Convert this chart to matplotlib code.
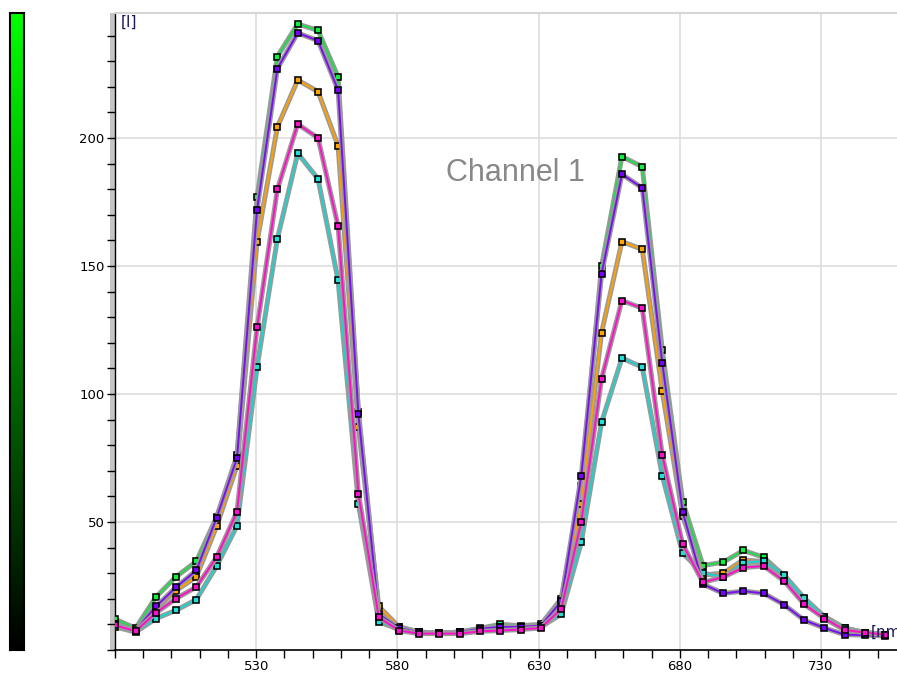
import numpy as np
import matplotlib
matplotlib.use("Agg")
import matplotlib.pyplot as plt
from matplotlib.ticker import MultipleLocator
from matplotlib.colors import LinearSegmentedColormap
from matplotlib.patches import Rectangle

# ---- data ----
wavelengths = [480.1, 487.3, 494.5, 501.6, 508.8, 516.0, 523.2, 530.3, 537.5, 544.7,
               551.9, 559.0, 566.2, 573.4, 580.6, 587.7, 594.9, 602.1, 609.3, 616.4,
               623.6, 630.8, 638.0, 645.1, 652.3, 659.5, 666.7, 673.8, 681.0, 688.2,
               695.4, 702.5, 709.7, 716.9, 724.1, 731.2, 738.4, 745.6, 752.8]

green = [12, 8.5, 20.7, 28.6, 34.6, 52, 76, 176.8, 231.8, 244.5,
         242, 223.8, 93, 15, 9, 7, 6.5, 7, 8.5, 10,
         9.5, 10, 20, 64, 150, 192.7, 188.8, 117, 58, 33,
         34.3, 38.9, 36.2, 29, 20, 13, 8.5, 6.8, 6]
purple = [10, 7.8, 17, 24.5, 31.1, 51.7, 75, 172, 227.1, 241,
          238, 218.7, 92, 14, 8.5, 7, 6.5, 7, 8.3, 9,
          9, 9.5, 19, 68, 147, 185.8, 180.5, 112, 54, 25.7,
          22.1, 23.0, 22.1, 17.7, 11.6, 8.6, 6.0, 5.8, 5.5]
orange = [10, 7.6, 16.3, 23.2, 28.6, 48.3, 72, 159.4, 204.3, 222.6,
          218.1, 196.9, 87, 17, 9, 7, 6.5, 7, 8, 9,
          9, 9.5, 17, 57, 124, 159.5, 156.5, 101, 52.3, 29.3,
          30, 35.2, 34.5, 27.5, 18.5, 12.5, 8, 6.5, 6]
magenta = [9.6, 7.4, 14.5, 20.1, 24.6, 36.3, 54, 126, 179.9, 205.4,
           200, 165.5, 61, 12.7, 7.6, 6.4, 6.4, 6.4, 7.3, 7.6,
           8.0, 8.6, 16, 50, 106, 136.5, 133.5, 76, 41.3, 26.4,
           28.5, 32.2, 32.8, 27.0, 17.8, 12.3, 7.8, 6.8, 6]
cyan = [9, 7, 12.3, 15.5, 19.7, 32.8, 48.5, 110.4, 160.6, 194,
        184, 144.4, 57, 11, 8, 7, 6.5, 7, 8, 8.5,
        8.5, 9, 14, 42, 89, 114, 110.5, 68, 37.8, 30,
        28.5, 34, 34.8, 29.3, 20.2, 13, 8.5, 6.8, 6]

series = [
    (green, "#1edc4a", "#10f040"),
    (orange, "#ffa000", "#ffa500"),
    (cyan, "#1ed2cc", "#20e0d8"),
    (purple, "#7a10f0", "#7a00ff"),
    (magenta, "#ff10c8", "#ff10d0"),
]

W, H = 897, 674
fig = plt.figure(figsize=(W / 100, H / 100), dpi=100)
fig.patch.set_facecolor("white")

ax = fig.add_axes([115 / W, 24 / H, (W - 115) / W, 637.5 / H])
ax.set_xlim(480, 756.9)
ax.set_ylim(0, 249)

ax.set_xticks([530, 580, 630, 680, 730])
ax.set_yticks([50, 100, 150, 200])
ax.xaxis.set_minor_locator(MultipleLocator(10))
ax.yaxis.set_minor_locator(MultipleLocator(10))
ax.tick_params(which="both", direction="out", length=6, width=1.0, color="black",
               labelsize=9.5, labelcolor="#000000")
ax.tick_params(axis="y", pad=1.5)
ax.tick_params(axis="x", pad=1.5)
ax.grid(which="major", color="#dadada", lw=1.1)
ax.set_axisbelow(True)

ax.spines["right"].set_visible(False)
ax.spines["top"].set_color("#d6d6d6")
ax.spines["top"].set_linewidth(1.5)
ax.spines["left"].set_color("black")
ax.spines["left"].set_linewidth(1.0)
ax.spines["bottom"].set_color("black")
ax.spines["bottom"].set_linewidth(1.2)

z = 3
for vals, lc, mc in series:
    ax.plot(wavelengths, vals, color="#9a9a9a", lw=3.6, zorder=z,
            solid_joinstyle="round", solid_capstyle="round")
    ax.plot(wavelengths, vals, color=lc, lw=1.4, marker="s", ms=4.4,
            mfc=mc, mec="black", mew=1.15, zorder=z + 0.5)
    z += 1

# gray band left of y axis
fig.patches.append(Rectangle((109.5 / W, 24 / H), 5 / W, 637.5 / H,
                             transform=fig.transFigure, facecolor="#c4c4c4",
                             edgecolor="none", zorder=-1))

# texts
fig.text(121 / W, 1 - 15 / H, "[I]", va="top", ha="left", fontsize=11, color="#1a1a5a")
fig.text(871 / W, 1 - 632.5 / H, "[nm]", va="center", ha="left", fontsize=11,
         color="#1a1a5a", zorder=20)
fig.text(585 / W, 1 - 181 / H, "Channel 1", ha="right", va="baseline", fontsize=22,
         family=["Liberation Sans", "DejaVu Sans"], color="#888888")

# left gradient bar
cax = fig.add_axes([10 / W, 24 / H, 13.5 / W, 637.5 / H])
cmap = LinearSegmentedColormap.from_list("gk", ["#000000", "#00ff00"])
grad = np.linspace(0, 1, 256).reshape(-1, 1)
cax.imshow(grad, aspect="auto", cmap=cmap, origin="lower")
cax.set_xticks([])
cax.set_yticks([])
for s in cax.spines.values():
    s.set_color("black")
    s.set_linewidth(1.5)

fig.savefig("out.png", dpi=100)
